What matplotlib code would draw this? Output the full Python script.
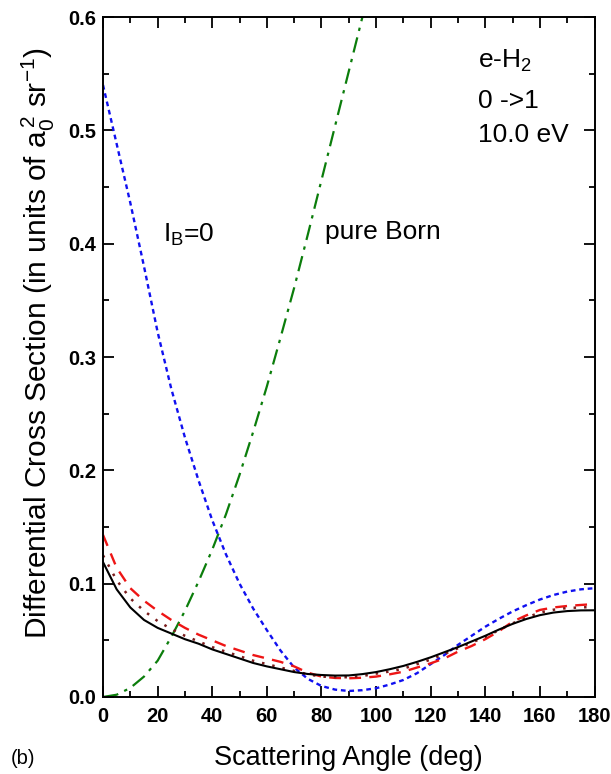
import matplotlib
matplotlib.use("Agg")
import matplotlib.pyplot as plt
from matplotlib.ticker import MultipleLocator

plt.rcParams["font.family"] = ["Liberation Sans", "DejaVu Sans"]
plt.rcParams["mathtext.fontset"] = "custom"
plt.rcParams["mathtext.rm"] = "Liberation Sans"
plt.rcParams["mathtext.it"] = "Liberation Sans:italic"
plt.rcParams["mathtext.bf"] = "Liberation Sans:bold"

# Scattering angles (deg)
angle = [0, 5, 10, 15, 20, 25, 30, 35, 40, 45, 50, 55, 60, 65, 70, 75, 80, 85, 90,
         95, 100, 105, 110, 115, 120, 125, 130, 135, 140, 145, 150, 155, 160, 165,
         170, 175, 180]

# Full calculation (solid black)
dcs_full = [0.119, 0.095, 0.079, 0.068, 0.061, 0.056, 0.051, 0.047, 0.042, 0.038,
            0.034, 0.030, 0.027, 0.0245, 0.022, 0.0203, 0.0194, 0.0189, 0.0190,
            0.0202, 0.022, 0.0245, 0.0274, 0.031, 0.035, 0.0395, 0.044, 0.049,
            0.054, 0.0595, 0.0645, 0.0688, 0.0722, 0.0745, 0.0758, 0.0764, 0.0765]

# Alternative calculation (dotted dark red)
dcs_dotted = [0.125, 0.103, 0.087, 0.076, 0.067, 0.060, 0.054, 0.049, 0.044, 0.040,
              0.036, 0.032, 0.029, 0.026, 0.023, 0.020, 0.018, 0.0175, 0.0174,
              0.0185, 0.0206, 0.0225, 0.025, 0.029, 0.033, 0.038, 0.043, 0.048,
              0.053, 0.059, 0.065, 0.070, 0.0745, 0.077, 0.0785, 0.079, 0.0795]

# Alternative calculation (dashed red)
dcs_dashed = [0.143, 0.114, 0.096, 0.085, 0.076, 0.068, 0.061, 0.055, 0.050, 0.045,
              0.041, 0.037, 0.034, 0.031, 0.027, 0.0215, 0.018, 0.0168, 0.0165,
              0.017, 0.018, 0.020, 0.0223, 0.026, 0.0297, 0.034, 0.040, 0.045,
              0.051, 0.058, 0.0665, 0.072, 0.0768, 0.079, 0.0803, 0.0812, 0.082]

# l_B = 0 calculation (blue dotted)
dcs_lb0 = [0.540, 0.488, 0.436, 0.380, 0.322, 0.272, 0.229, 0.191, 0.156, 0.126,
           0.100, 0.078, 0.059, 0.041, 0.026, 0.016, 0.0097, 0.0065, 0.0053,
           0.006, 0.0077, 0.011, 0.015, 0.021, 0.029, 0.037, 0.046, 0.054,
           0.062, 0.069, 0.0755, 0.081, 0.086, 0.090, 0.093, 0.095, 0.096]

# Pure Born calculation (green dash-dot)
angle_born = [0, 5, 10, 15, 20, 25, 30, 35, 40, 45, 50, 55, 60, 65, 70, 75, 80, 85,
              90, 95]
dcs_born = [0.0, 0.002, 0.008, 0.018, 0.032, 0.053, 0.076, 0.102, 0.130, 0.161,
            0.196, 0.234, 0.274, 0.317, 0.361, 0.408, 0.456, 0.504, 0.552, 0.600]

fig = plt.figure(figsize=(6.11, 7.74), dpi=100)
ax = fig.add_axes([0.1686, 0.0995, 0.8044, 0.8785])

ax.plot(angle_born, dcs_born, color="#0b7d0b", lw=1.6,
        linestyle=(0, (7, 3, 1.5, 3)))
ax.plot(angle, dcs_lb0, color="#1010f0", lw=1.7, linestyle=(0, (2, 1.6)))
ax.plot(angle, dcs_dashed, color="#ee1515", lw=1.7, linestyle=(0, (5, 3.5)))
ax.plot(angle, dcs_dotted, color="#7a1c1c", lw=1.8, linestyle=(0, (1, 3.2)))
ax.plot(angle, dcs_full, color="black", lw=1.5)

ax.set_xlim(0, 180)
ax.set_ylim(0, 0.6)
ax.xaxis.set_major_locator(MultipleLocator(20))
ax.xaxis.set_minor_locator(MultipleLocator(10))
ax.yaxis.set_major_locator(MultipleLocator(0.1))
ax.yaxis.set_minor_locator(MultipleLocator(0.05))
ax.yaxis.set_major_formatter(plt.FormatStrFormatter("%.1f"))

ax.tick_params(which="both", direction="in", top=True, right=True, width=1.3,
               labelsize=14.5)
ax.tick_params(axis="x", which="major", pad=7)
ax.tick_params(axis="y", which="major", pad=5)
ax.tick_params(which="major", length=8)
ax.tick_params(which="minor", length=4.5)
for lab in ax.get_xticklabels() + ax.get_yticklabels():
    lab.set_fontweight("bold")
for sp in ax.spines.values():
    sp.set_linewidth(1.4)

ax.set_xlabel("Scattering Angle (deg)", fontsize=19.5, labelpad=14)
ax.set_ylabel(r"Differential Cross Section (in units of a$_0^{\,2}$ sr$^{-1}$)",
              fontsize=21.5, labelpad=8)
ax.yaxis.label.set_y(0.52)

ax.text(0.763, 0.926, r"e-H$_2$", transform=ax.transAxes, fontsize=19,
        va="baseline")
ax.text(0.763, 0.866, "0 ->1", transform=ax.transAxes, fontsize=19,
        va="baseline")
ax.text(0.763, 0.816, "10.0 eV", transform=ax.transAxes, fontsize=19,
        va="baseline")
ax.text(0.1227, 0.6696, r"I$_\mathregular{B}$=0", transform=ax.transAxes,
        fontsize=19, va="baseline")
ax.text(0.4517, 0.673, "pure Born", transform=ax.transAxes, fontsize=19,
        va="baseline")
fig.text(0.018, 0.013, "(b)", fontsize=14.5, va="baseline")

fig.savefig("out.png", dpi=100)
